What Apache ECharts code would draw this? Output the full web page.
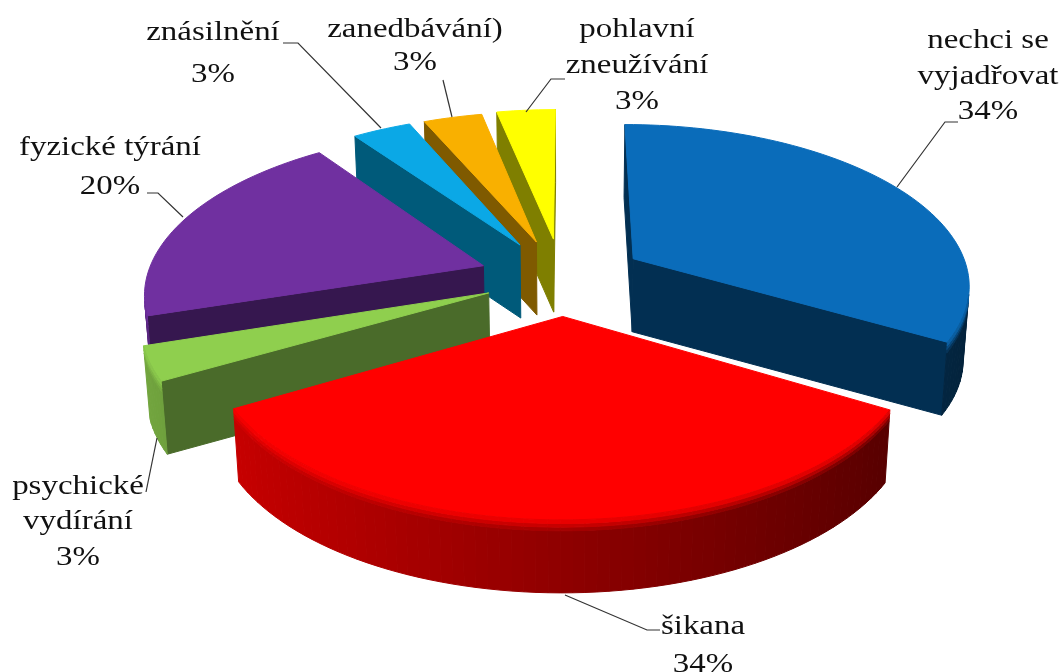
<!DOCTYPE html>
<html>
<head>
<meta charset="utf-8">
<script src="https://cdn.jsdelivr.net/npm/echarts@6/dist/echarts.min.js"></script>
<style>
  html, body { margin: 0; padding: 0; background: #fff; }
  #chart { width: 1062px; height: 672px; }
</style>
</head>
<body>
<div id="chart"></div>
<script>
// data
const categories = ['nechci se\nvyjadřovat', 'šikana', 'psychické\nvydírání', 'fyzické týrání', 'znásilnění', 'zanedbávání)', 'pohlavní\nzneužívání'];
// what the labels print
const percents = [34, 34, 3, 20, 3, 3, 3];
// size of the slices as measured on the picture
const sliceShares = [33.3, 33.3, 3.3, 20, 3.3, 3.3, 3.3];

// look of each slice
const topColors = ['#0a6cba', '#ff0000', '#8fcf4e', '#7030a0', '#0ba8e6', '#f9b000', '#ffff00'];
const sideColors = ['#022f52', '#b00000', '#4a6b2a', '#36174f', '#005a7a', '#7f5a00', '#7f7f00'];

// how far each slice is pulled out of the pie (pie radius = 1)
const pullOut = [[0.194, 0.085], [-0.018, -0.27], [-0.235, -0.13], [-0.257, 0.04], [-0.15, 0.175], [-0.1, 0.195], [-0.048, 0.215]];

// back to front
const drawOrder = [0, 6, 5, 4, 3, 2, 1];

// label layout: centre x, y of every line
const labelPlace = [
  [988, [41, 77, 112]],
  [703, [627, 665]],
  [78, [487, 522, 558]],
  [110, [148, 187]],
  [213, [33, 75]],
  [415, [30, 63]],
  [637, [30, 66, 102]]
];
const leaders = [
  [[958, 122], [945, 122], [897, 187]],
  [[660, 630], [647, 630], [565, 595]],
  [[146, 492], [157, 438]],
  [[147, 193], [158, 193], [183, 217]],
  [[283, 43], [298, 43], [381, 128]],
  [[443, 80], [452, 117]],
  [[565, 79], [551, 79], [526, 112]]
];

// pretend-3D projection
const cx = 569, cy = 272, R = 335, tilt = 158, persp = 0.15, depth = 73;

function project(u, v, z) {
  const s = 1 / (1 + persp * v);
  return [cx + R * u * s * (1 + 0.015 * z), cy - tilt * v * s - depth * z];
}

function shade(hex, f) {
  const n = parseInt(hex.slice(1), 16);
  const c = [(n >> 16) & 255, (n >> 8) & 255, n & 255].map(x => Math.round(x * f));
  return 'rgb(' + c.join(',') + ')';
}

function area(pts) {
  let a = 0;
  for (let i = 0; i < pts.length; i++) {
    const p = pts[i], q = pts[(i + 1) % pts.length];
    a += p[0] * q[1] - q[0] * p[1];
  }
  return a / 2;
}

function poly(points, fill) {
  return { type: 'polygon', shape: { points: points }, style: { fill: fill, stroke: fill, lineWidth: 1 } };
}

const total = sliceShares.reduce((a, b) => a + b, 0);
const bands = [[0, -0.05, 0.2], [-0.05, -0.1, 0.5], [-0.1, -0.15, 0.8], [-0.15, -1, 1]];

function sliceElements(i) {
  const start = sliceShares.slice(0, i).reduce((a, b) => a + b, 0) / total * Math.PI * 2;
  const end = start + sliceShares[i] / total * Math.PI * 2;
  const du = pullOut[i][0], dv = pullOut[i][1];
  const at = (a, r, z) => project(du + r * Math.sin(a), dv + r * Math.cos(a), z);
  const steps = Math.max(6, Math.round((end - start) / 0.03));
  const apexTop = project(du, dv, 0), apexBot = project(du, dv, -1);
  const kids = [];

  // flat walls, only those turned to us
  [[start, 1], [end, -1]].forEach(function (w) {
    const q = [apexTop, at(w[0], 1, 0), at(w[0], 1, -1), apexBot];
    if (area(q) * w[1] < 0) kids.push(poly(q, sideColors[i]));
  });

  // outer wall, cut in short strips so it can shade with the angle
  const topFace = [apexTop];
  for (let k = 0; k <= steps; k++) {
    topFace.push(at(start + (end - start) * k / steps, 1, 0));
  }
  kids.push(poly(topFace, topColors[i]));
  bands.slice().reverse().forEach(function (band) {
    for (let k = 0; k < steps; k++) {
      const a = start + (end - start) * k / steps;
      const b = start + (end - start) * (k + 1) / steps;
      const q = [at(a, 1, band[0]), at(b, 1, band[0]), at(b, 1, band[1]), at(a, 1, band[1])];
      if (area(q) < 0) {
        const f = 0.56 - 0.25 * Math.sin((a + b) / 2);
        kids.push(poly(q, shade(topColors[i], 1 + (f - 1) * band[2])));
      }
    }
  });
  return kids;
}

function labelElements(i) {
  const place = labelPlace[i];
  const lines = categories[i].split('\n').concat(percents[i] + '%');
  const kids = lines.map(function (t, n) {
    return {
      type: 'text',
      x: place[0],
      y: place[1][n],
      scaleX: 1.22,
      style: { text: t, font: '27px "Liberation Serif"', fill: '#111', align: 'center', verticalAlign: 'middle' }
    };
  });
  kids.push({
    type: 'polyline',
    shape: { points: leaders[i] },
    style: { stroke: '#333', lineWidth: 1.2, fill: null }
  });
  return kids;
}

const chart = echarts.init(document.getElementById('chart'), null, { renderer: 'canvas' });

chart.setOption({
  animation: false,
  backgroundColor: '#fff',
  series: [{
    type: 'custom',
    coordinateSystem: 'none',
    silent: true,
    data: drawOrder.map(i => ({ name: categories[i], value: sliceShares[i] })),
    renderItem: function (params) {
      const i = drawOrder[params.dataIndex];
      return { type: 'group', children: sliceElements(i).concat(labelElements(i)) };
    }
  }]
});
</script>
</body>
</html>
